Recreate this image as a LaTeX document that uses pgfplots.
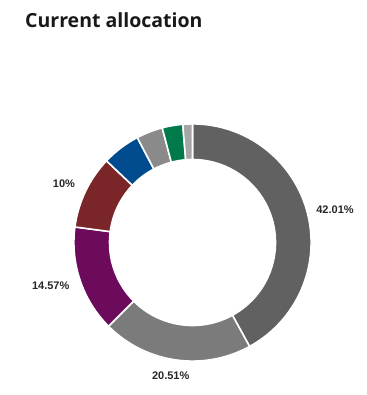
\documentclass[border=0pt]{standalone}
\usepackage{pgfplots}
\usepackage{pgfplotstable}
\pgfplotsset{compat=1.18}
\usepackage{fontspec}
\setmainfont{Liberation Sans}
\newfontfamily\titlefont{Open Sans}
\definecolor{c1}{HTML}{616161}
\definecolor{c2}{HTML}{7B7B7B}
\definecolor{c3}{HTML}{6C0A5C}
\definecolor{c4}{HTML}{7A2527}
\definecolor{c5}{HTML}{004B8D}
\definecolor{c6}{HTML}{8A8A8A}
\definecolor{c7}{HTML}{007A4B}
\definecolor{c8}{HTML}{A6A6A6}
\pgfplotstableread{
value color
42.01 c1
20.51 c2
14.57 c3
10 c4
5.2 c5
3.6 c6
2.8 c7
1.31 c8
}\datatable
\pgfplotstableread{
x y label
335 185 {42.01\%}
170.7 19 {20.51\%}
50.7 109 {14.57\%}
64 211 {10\%}
}\labeltable
\begin{document}
\begin{tikzpicture}
\begin{axis}[
  x=1bp, y=1bp, xmin=0, xmax=367, ymin=0, ymax=395,
  scale only axis, hide axis, clip=false,
  at={(0,0)}, anchor=south west,
]
\addplot[draw=none, forget plot] coordinates {(0,0) (367,395)};
\coordinate (c) at (axis cs:192.5,152.5);
\pgfplotstablegetrowsof{\datatable}
\pgfmathtruncatemacro\N{\pgfplotsretval-1}
\def\cum{0}
\pgfplotsforeachungrouped \i in {0,...,\N}{
  \pgfplotstablegetelem{\i}{value}\of\datatable \let\v\pgfplotsretval
  \pgfplotstablegetelem{\i}{color}\of\datatable \let\c\pgfplotsretval
  \pgfmathsetmacro\a{90-3.6*\cum}
  \pgfmathsetmacro\b{90-3.6*(\cum+\v)}
  \edef\temp{\noexpand\fill[fill=\c, draw=white, line width=1.6bp]
    ([shift={(\a:118.6bp)}]c) arc[start angle=\a, end angle=\b, radius=118.6bp]
    -- ([shift={(\b:83bp)}]c) arc[start angle=\b, end angle=\a, radius=83bp] -- cycle;}
  \temp
  \pgfmathsetmacro\cum{\cum+\v}
}
\pgfplotstablegetrowsof{\labeltable}
\pgfmathtruncatemacro\M{\pgfplotsretval-1}
\pgfplotsforeachungrouped \j in {0,...,\M}{
  \pgfplotstablegetelem{\j}{x}\of\labeltable \let\lx\pgfplotsretval
  \pgfplotstablegetelem{\j}{y}\of\labeltable \let\ly\pgfplotsretval
  \pgfplotstablegetelem{\j}{label}\of\labeltable \let\ll\pgfplotsretval
  \edef\temp{\noexpand\node[font=\noexpand\fontsize{11bp}{13bp}\noexpand\selectfont\noexpand\bfseries, text=black!85, inner sep=0pt] at (axis cs:\lx,\ly) {\ll};}
  \temp
}
\node[anchor=base west, inner sep=0pt, font=\titlefont\bfseries\fontsize{19.5bp}{24bp}\selectfont, text=black!90]
  at (axis cs:25,368) {Current allocation};
\end{axis}
\end{tikzpicture}
\end{document}
